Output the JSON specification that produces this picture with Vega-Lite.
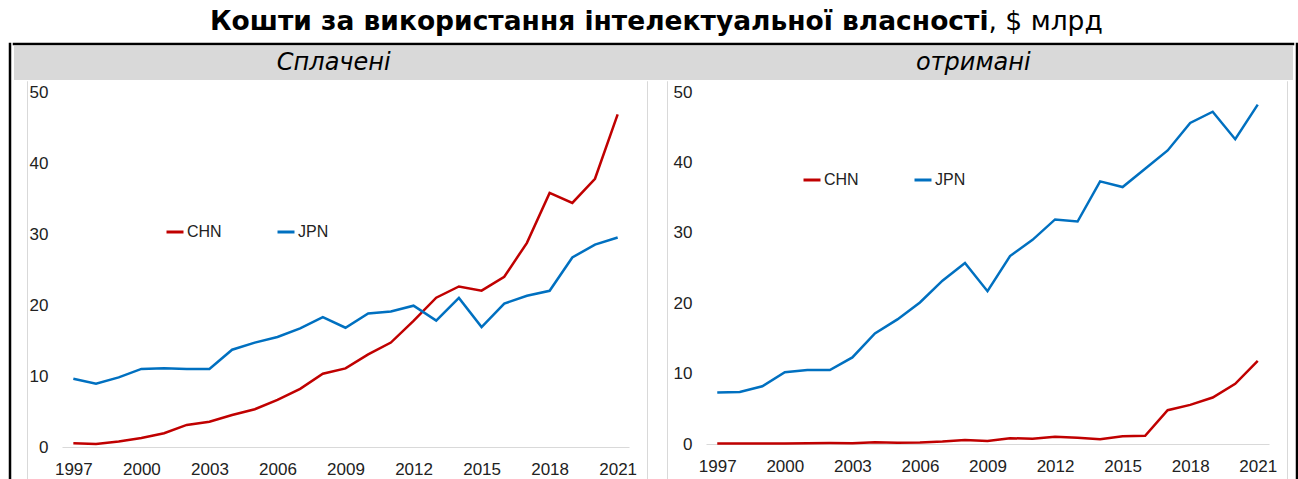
{
  "$schema": "https://vega.github.io/schema/vega-lite/v6.json",
  "background": "white",
  "padding": {"left": 8, "top": 9, "right": 0, "bottom": 0},
  "spacing": 0,
  "config": {"view": {"stroke": null}},
  "title": {
    "text": "Кошти за використання інтелектуальної власності",
    "subtitle": ", $ млрд",
    "anchor": "middle",
    "align": "left",
    "dx": 335,
    "offset": 7,
    "font": "DejaVu Sans",
    "fontSize": 26.5,
    "fontWeight": "bold",
    "color": "black",
    "subtitleFont": "DejaVu Sans",
    "subtitleFontSize": 26.5,
    "subtitleFontWeight": "normal",
    "subtitleColor": "black",
    "subtitlePadding": -26.5,
    "encoding": {"align": {"value": "right"}}
  },
  "datasets": {
    "ip": [
      {"type": "paid", "country": "CHN", "year": 1997, "value": 0.54},
      {"type": "paid", "country": "CHN", "year": 1998, "value": 0.42},
      {"type": "paid", "country": "CHN", "year": 1999, "value": 0.79},
      {"type": "paid", "country": "CHN", "year": 2000, "value": 1.28},
      {"type": "paid", "country": "CHN", "year": 2001, "value": 1.94},
      {"type": "paid", "country": "CHN", "year": 2002, "value": 3.11},
      {"type": "paid", "country": "CHN", "year": 2003, "value": 3.55},
      {"type": "paid", "country": "CHN", "year": 2004, "value": 4.5},
      {"type": "paid", "country": "CHN", "year": 2005, "value": 5.32},
      {"type": "paid", "country": "CHN", "year": 2006, "value": 6.63},
      {"type": "paid", "country": "CHN", "year": 2007, "value": 8.19},
      {"type": "paid", "country": "CHN", "year": 2008, "value": 10.32},
      {"type": "paid", "country": "CHN", "year": 2009, "value": 11.07},
      {"type": "paid", "country": "CHN", "year": 2010, "value": 13.04},
      {"type": "paid", "country": "CHN", "year": 2011, "value": 14.71},
      {"type": "paid", "country": "CHN", "year": 2012, "value": 17.75},
      {"type": "paid", "country": "CHN", "year": 2013, "value": 21.03},
      {"type": "paid", "country": "CHN", "year": 2014, "value": 22.61},
      {"type": "paid", "country": "CHN", "year": 2015, "value": 22.02},
      {"type": "paid", "country": "CHN", "year": 2016, "value": 23.98},
      {"type": "paid", "country": "CHN", "year": 2017, "value": 28.75},
      {"type": "paid", "country": "CHN", "year": 2018, "value": 35.78},
      {"type": "paid", "country": "CHN", "year": 2019, "value": 34.37},
      {"type": "paid", "country": "CHN", "year": 2020, "value": 37.78},
      {"type": "paid", "country": "CHN", "year": 2021, "value": 46.84},
      {"type": "paid", "country": "JPN", "year": 1997, "value": 9.6},
      {"type": "paid", "country": "JPN", "year": 1998, "value": 8.9},
      {"type": "paid", "country": "JPN", "year": 1999, "value": 9.8},
      {"type": "paid", "country": "JPN", "year": 2000, "value": 11.0},
      {"type": "paid", "country": "JPN", "year": 2001, "value": 11.1},
      {"type": "paid", "country": "JPN", "year": 2002, "value": 11.0},
      {"type": "paid", "country": "JPN", "year": 2003, "value": 11.0},
      {"type": "paid", "country": "JPN", "year": 2004, "value": 13.7},
      {"type": "paid", "country": "JPN", "year": 2005, "value": 14.7},
      {"type": "paid", "country": "JPN", "year": 2006, "value": 15.5},
      {"type": "paid", "country": "JPN", "year": 2007, "value": 16.7},
      {"type": "paid", "country": "JPN", "year": 2008, "value": 18.3},
      {"type": "paid", "country": "JPN", "year": 2009, "value": 16.8},
      {"type": "paid", "country": "JPN", "year": 2010, "value": 18.8},
      {"type": "paid", "country": "JPN", "year": 2011, "value": 19.1},
      {"type": "paid", "country": "JPN", "year": 2012, "value": 19.9},
      {"type": "paid", "country": "JPN", "year": 2013, "value": 17.8},
      {"type": "paid", "country": "JPN", "year": 2014, "value": 21.0},
      {"type": "paid", "country": "JPN", "year": 2015, "value": 16.9},
      {"type": "paid", "country": "JPN", "year": 2016, "value": 20.2},
      {"type": "paid", "country": "JPN", "year": 2017, "value": 21.3},
      {"type": "paid", "country": "JPN", "year": 2018, "value": 22.0},
      {"type": "paid", "country": "JPN", "year": 2019, "value": 26.7},
      {"type": "paid", "country": "JPN", "year": 2020, "value": 28.5},
      {"type": "paid", "country": "JPN", "year": 2021, "value": 29.5},
      {"type": "received", "country": "CHN", "year": 1997, "value": 0.06},
      {"type": "received", "country": "CHN", "year": 1998, "value": 0.06},
      {"type": "received", "country": "CHN", "year": 1999, "value": 0.08},
      {"type": "received", "country": "CHN", "year": 2000, "value": 0.08},
      {"type": "received", "country": "CHN", "year": 2001, "value": 0.11},
      {"type": "received", "country": "CHN", "year": 2002, "value": 0.13},
      {"type": "received", "country": "CHN", "year": 2003, "value": 0.11},
      {"type": "received", "country": "CHN", "year": 2004, "value": 0.24},
      {"type": "received", "country": "CHN", "year": 2005, "value": 0.16},
      {"type": "received", "country": "CHN", "year": 2006, "value": 0.2},
      {"type": "received", "country": "CHN", "year": 2007, "value": 0.34},
      {"type": "received", "country": "CHN", "year": 2008, "value": 0.57},
      {"type": "received", "country": "CHN", "year": 2009, "value": 0.43},
      {"type": "received", "country": "CHN", "year": 2010, "value": 0.83},
      {"type": "received", "country": "CHN", "year": 2011, "value": 0.74},
      {"type": "received", "country": "CHN", "year": 2012, "value": 1.04},
      {"type": "received", "country": "CHN", "year": 2013, "value": 0.89},
      {"type": "received", "country": "CHN", "year": 2014, "value": 0.68},
      {"type": "received", "country": "CHN", "year": 2015, "value": 1.09},
      {"type": "received", "country": "CHN", "year": 2016, "value": 1.16},
      {"type": "received", "country": "CHN", "year": 2017, "value": 4.8},
      {"type": "received", "country": "CHN", "year": 2018, "value": 5.56},
      {"type": "received", "country": "CHN", "year": 2019, "value": 6.6},
      {"type": "received", "country": "CHN", "year": 2020, "value": 8.55},
      {"type": "received", "country": "CHN", "year": 2021, "value": 11.8},
      {"type": "received", "country": "JPN", "year": 1997, "value": 7.3},
      {"type": "received", "country": "JPN", "year": 1998, "value": 7.4},
      {"type": "received", "country": "JPN", "year": 1999, "value": 8.2},
      {"type": "received", "country": "JPN", "year": 2000, "value": 10.2},
      {"type": "received", "country": "JPN", "year": 2001, "value": 10.5},
      {"type": "received", "country": "JPN", "year": 2002, "value": 10.5},
      {"type": "received", "country": "JPN", "year": 2003, "value": 12.3},
      {"type": "received", "country": "JPN", "year": 2004, "value": 15.7},
      {"type": "received", "country": "JPN", "year": 2005, "value": 17.7},
      {"type": "received", "country": "JPN", "year": 2006, "value": 20.1},
      {"type": "received", "country": "JPN", "year": 2007, "value": 23.2},
      {"type": "received", "country": "JPN", "year": 2008, "value": 25.7},
      {"type": "received", "country": "JPN", "year": 2009, "value": 21.7},
      {"type": "received", "country": "JPN", "year": 2010, "value": 26.7},
      {"type": "received", "country": "JPN", "year": 2011, "value": 29.0},
      {"type": "received", "country": "JPN", "year": 2012, "value": 31.9},
      {"type": "received", "country": "JPN", "year": 2013, "value": 31.6},
      {"type": "received", "country": "JPN", "year": 2014, "value": 37.3},
      {"type": "received", "country": "JPN", "year": 2015, "value": 36.5},
      {"type": "received", "country": "JPN", "year": 2016, "value": 39.1},
      {"type": "received", "country": "JPN", "year": 2017, "value": 41.7},
      {"type": "received", "country": "JPN", "year": 2018, "value": 45.6},
      {"type": "received", "country": "JPN", "year": 2019, "value": 47.2},
      {"type": "received", "country": "JPN", "year": 2020, "value": 43.3},
      {"type": "received", "country": "JPN", "year": 2021, "value": 48.2}
    ]
  },
  "hconcat": [
    {"width": 0.01, "height": 445, "data": {"values": []}, "mark": "point", "view": {"stroke": "black", "strokeWidth": 2.5}},
    {
      "spacing": 0,
      "vconcat": [
        {"width": 1279, "height": 0.01, "data": {"values": []}, "mark": "point", "view": {"stroke": "black", "strokeWidth": 2.5}},
        {
          "width": 1279, "height": 34,
          "data": {"values": [{"p": "Сплачені"}, {"p": "отримані"}]},
          "mark": {"type": "text", "font": "DejaVu Sans", "fontSize": 24, "fontStyle": "italic", "color": "black"},
          "encoding": {
            "x": {"field": "p", "type": "nominal", "scale": {"domain": ["Сплачені", "отримані"]}, "axis": null},
            "text": {"field": "p"}
          },
          "view": {"fill": "#d9d9d9", "stroke": null}
        },
        {
          "spacing": 0,
          "resolve": {"scale": {"color": "independent"}, "legend": {"color": "independent"}},
          "hconcat": [
            {"width": 12, "height": 0.01, "data": {"values": []}, "mark": "point"},
            {"width": 0.01, "height": 410, "data": {"values": []}, "mark": "point", "view": {"stroke": "#d9d9d9", "strokeWidth": 1}},
            {"width": 1, "height": 0.01, "data": {"values": []}, "mark": "point"},
            {
              "spacing": 0,
              "resolve": {"scale": {"color": "independent"}, "legend": {"color": "independent"}},
              "vconcat": [
                {"width": 0.01, "height": 2, "data": {"values": []}, "mark": "point"},
                {
                  "width": 567, "height": 355,
                  "data": {"name": "ip"},
                  "transform": [{"filter": "datum.type === 'paid'"}],
                  "mark": {"type": "line", "strokeWidth": 2.5},
                  "encoding": {
                    "x": {"field": "year", "type": "quantitative", "scale": {"domain": [1996.5, 2021.5], "nice": false, "zero": false},
                      "axis": {"values": [1997, 2000, 2003, 2006, 2009, 2012, 2015, 2018, 2021], "format": "d", "grid": false, "ticks": false, "domainColor": "#d9d9d9", "domainWidth": 1, "labelFont": "Liberation Sans", "labelFontSize": 17, "labelColor": "#222222", "labelPadding": 14, "labelFlush": false, "labelOverlap": false, "title": null}},
                    "y": {"field": "value", "type": "quantitative", "scale": {"domain": [0, 50], "nice": false},
                      "axis": {"values": [0, 10, 20, 30, 40, 50], "grid": false, "ticks": false, "domain": false, "labelFont": "Liberation Sans", "labelFontSize": 17, "labelColor": "#222222", "labelPadding": 14, "title": null}},
                    "color": {"field": "country", "type": "nominal", "scale": {"domain": ["CHN", "JPN"], "range": ["#c00000", "#0070c0"]},
                      "legend": {"orient": "none", "legendX": 103, "legendY": 130, "direction": "horizontal", "title": null, "symbolType": "stroke", "symbolSize": 289, "symbolStrokeWidth": 3, "labelFont": "Liberation Sans", "labelFontSize": 16, "labelColor": "#222222", "labelOffset": 2, "columnPadding": 49, "padding": 0}}
                  }
                }
              ]
            },
            {"width": 8.5, "height": 0.01, "data": {"values": []}, "mark": "point"},
            {"width": 0.01, "height": 410, "data": {"values": []}, "mark": "point", "view": {"stroke": "#d9d9d9", "strokeWidth": 1}},
            {"width": 18, "height": 0.01, "data": {"values": []}, "mark": "point"},
            {"width": 0.01, "height": 410, "data": {"values": []}, "mark": "point", "view": {"stroke": "#d9d9d9", "strokeWidth": 1}},
            {"width": 4.5, "height": 0.01, "data": {"values": []}, "mark": "point"},
            {
              "spacing": 0,
              "resolve": {"scale": {"color": "independent"}, "legend": {"color": "independent"}},
              "vconcat": [
                {"width": 0.01, "height": 2, "data": {"values": []}, "mark": "point"},
                {
                  "width": 563, "height": 352,
                  "data": {"name": "ip"},
                  "transform": [{"filter": "datum.type === 'received'"}],
                  "mark": {"type": "line", "strokeWidth": 2.5},
                  "encoding": {
                    "x": {"field": "year", "type": "quantitative", "scale": {"domain": [1996.5, 2021.5], "nice": false, "zero": false},
                      "axis": {"values": [1997, 2000, 2003, 2006, 2009, 2012, 2015, 2018, 2021], "format": "d", "grid": false, "ticks": false, "domainColor": "#d9d9d9", "domainWidth": 1, "labelFont": "Liberation Sans", "labelFontSize": 17, "labelColor": "#222222", "labelPadding": 14, "labelFlush": false, "labelOverlap": false, "title": null}},
                    "y": {"field": "value", "type": "quantitative", "scale": {"domain": [0, 50], "nice": false},
                      "axis": {"values": [0, 10, 20, 30, 40, 50], "grid": false, "ticks": false, "domain": false, "labelFont": "Liberation Sans", "labelFontSize": 17, "labelColor": "#222222", "labelPadding": 14, "title": null}},
                    "color": {"field": "country", "type": "nominal", "scale": {"domain": ["CHN", "JPN"], "range": ["#c00000", "#0070c0"]},
                      "legend": {"orient": "none", "legendX": 96, "legendY": 78, "direction": "horizontal", "title": null, "symbolType": "stroke", "symbolSize": 289, "symbolStrokeWidth": 3, "labelFont": "Liberation Sans", "labelFontSize": 16, "labelColor": "#222222", "labelOffset": 2, "columnPadding": 49, "padding": 0}}
                  }
                }
              ]
            },
            {"width": 9, "height": 0.01, "data": {"values": []}, "mark": "point"},
            {"width": 0.01, "height": 410, "data": {"values": []}, "mark": "point", "view": {"stroke": "#d9d9d9", "strokeWidth": 1}}
          ]
        }
      ]
    },
    {"width": 0.01, "height": 445, "data": {"values": []}, "mark": "point", "view": {"stroke": "black", "strokeWidth": 2.5}}
  ]
}
